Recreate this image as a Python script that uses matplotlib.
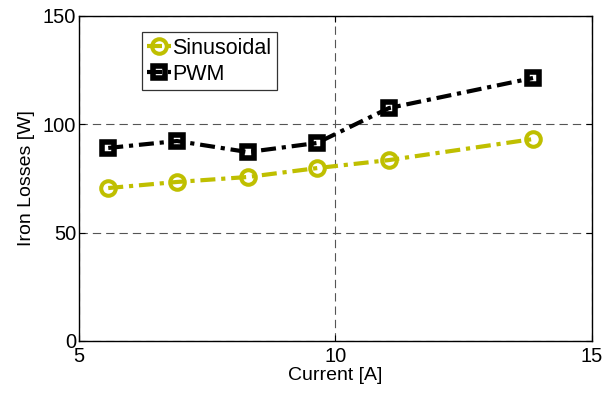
import matplotlib
matplotlib.use('Agg')
import matplotlib.pyplot as plt

plt.rcParams['font.family'] = ['Liberation Sans', 'DejaVu Sans']

# Measured iron losses versus phase current
current_sin = [5.57, 6.91, 8.29, 9.64, 11.04, 13.85]
loss_sin = [70.6, 73.4, 75.7, 79.8, 83.5, 93.2]

current_pwm = [5.57, 6.91, 8.29, 9.64, 11.04, 13.85]
loss_pwm = [89.1, 92.3, 87.2, 91.4, 107.5, 121.4]

x_ticks = [5, 10, 15]
y_ticks = [0, 50, 100, 150]

OLIVE = '#BFBF00'
DASHDOT = (0, (3.6, 1.4, 1.0, 1.4))

fig = plt.figure(figsize=(6.04, 3.93), dpi=100)
ax = fig.add_axes([79 / 604, 1 - 341 / 393, 513 / 604, 325 / 393])

ax.plot(current_sin, loss_sin, color=OLIVE, lw=3.0, ls=DASHDOT,
        marker='o', ms=10.5, mfc='none', mec=OLIVE, mew=2.9,
        label='Sinusoidal')
ax.plot(current_pwm, loss_pwm, color='black', lw=3.0, ls=DASHDOT,
        marker='s', ms=9.0, mfc='none', mec='black', mew=4.0,
        label='PWM')

ax.set_xlim(5, 15)
ax.set_ylim(0, 150)
ax.set_xticks(x_ticks)
ax.set_yticks(y_ticks)

ax.grid(True, color='#555555', ls=(0, (7.5, 4.5)), lw=0.8)
ax.tick_params(direction='in', top=True, right=True, labelsize=14.5,
               length=4, width=0.8)
ax.tick_params(axis='x', pad=4)
ax.tick_params(axis='y', pad=2)
for sp in ax.spines.values():
    sp.set_linewidth(1.0)

ax.set_xlabel('Current [A]', fontsize=14, labelpad=1)
ax.set_ylabel('Iron Losses [W]', fontsize=14, labelpad=6)

leg = ax.legend(loc='upper left', bbox_to_anchor=(0.123, 0.95),
                fontsize=15.5, frameon=True, fancybox=False,
                edgecolor='black', handlelength=1.1, handletextpad=0.05,
                borderpad=0.25, labelspacing=0.25, borderaxespad=0)
leg.get_frame().set_linewidth(0.9)

fig.savefig('out.png', dpi=100)
